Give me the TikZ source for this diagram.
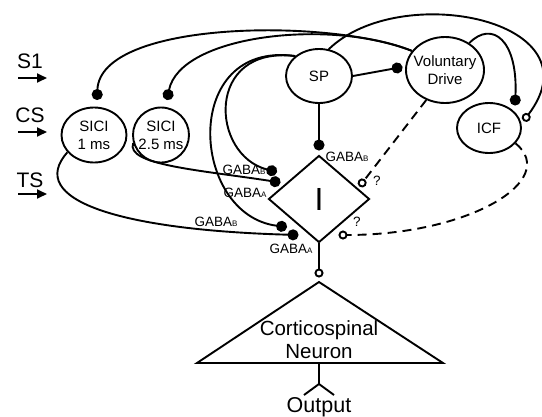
\documentclass[tikz,border=0pt]{standalone}
\usepackage{fontspec}
\setmainfont{Liberation Sans}
\usetikzlibrary{shapes.geometric,arrows.meta,positioning}
\newcommand{\subcap}[1]{{\fontsize{8}{8}\selectfont #1}}
\newcommand{\gabab}{GABA\subcap{B}}
\newcommand{\gabaa}{GABA\subcap{A}}

\begin{document}
\begin{tikzpicture}[
    x=1pt, y=-1pt,
    cell/.style={ellipse, draw, line width=1.9pt, inner sep=-4pt, align=center, font=\fontsize{15}{18}\selectfont},
    gaba/.style={inner sep=0pt, font=\fontsize{13.5}{14}\selectfont},
    stim/.style={inner sep=0pt, font=\fontsize{21}{22}\selectfont},
    link/.style={line width=1.9pt},
    inh/.style={link, -{Circle[length=11pt]}},
    exc/.style={link, -{Circle[open, length=9pt]}},
    maybe/.style={exc, dash pattern=on 9pt off 6pt},
    stimarrow/.style={line width=1.9pt, -{Triangle[length=10pt, width=9pt]}}
]
    \useasboundingbox (0,0) rectangle (542,416);

    % stimuli
    \foreach \name/\ty/\ay in {S1/61/78, CS/115/132, TS/180/194} {
        \node[stim] (\name) at (30,\ty) {\name};
        \coordinate (\name-from) at (18,\ay);
        \coordinate (\name-to) at (47,\ay);
        \draw[stimarrow] (\name-from) -- (\name-to);
    }

    % cells
    \node[cell, minimum width=65pt, minimum height=55pt] (sici1) at (94,135) {SICI\\1 ms};
    \node[cell, minimum width=56pt, minimum height=55pt] (sici2) at (161,135) {SICI\\2.5 ms};
    \node[cell, minimum width=66pt, minimum height=54pt] (sp) at (319,76) {SP};
    \node[cell, minimum width=78pt, minimum height=66pt] (vd) at (445,70) {Voluntary\\Drive};
    \node[cell, minimum width=64pt, minimum height=50pt] (icf) at (489,128) {ICF};
    \node[diamond, draw, line width=1.9pt, minimum width=101pt, minimum height=87pt, inner sep=0pt,
          font=\fontsize{32}{32}\selectfont] (inhib) at (319,199) {I};

    % corticospinal neuron
    \coordinate (apex) at (319,282);
    \coordinate (baseL) at (197,363);
    \coordinate (baseR) at (443,363);
    \draw[link, line join=miter] (apex) -- (baseR) -- (baseL) -- cycle;
    \node[inner sep=0pt, align=center, font=\fontsize{20.5}{23}\selectfont] (neuron) at (319,340) {Corticospinal\\Neuron};
    \coordinate (basemid) at (319,363);
    \coordinate (fork) at (319,384);
    \coordinate (legL) at (304,395);
    \coordinate (legR) at (334,395);
    \draw[link] (basemid) -- (fork) (fork) -- (legL) (fork) -- (legR);
    \node[inner sep=0pt, anchor=north, font=\fontsize{21.5}{22}\selectfont] (output) at (319,397) {Output};

    % synapse ends
    \coordinate (d1) at (97,100);
    \coordinate (d2) at (167,100);
    \coordinate (p1) at (277,172);
    \coordinate (p2) at (280.5,182.5);
    \coordinate (p3) at (287,227);
    \coordinate (p4) at (298.5,235);
    \coordinate (ptop) at (319,150.5);
    \coordinate (q1) at (359.4,186.5);
    \coordinate (q2) at (338.5,235);
    \coordinate (vddot) at (402.5,67);
    \coordinate (icfdot) at (515,105.5);
    \coordinate (icfring) at (523.5,121);
    \coordinate (outtip) at (319,277.5);

    % connections
    \draw[inh] (vd.150) .. controls (330,18) and (100,20) .. (d1);
    \draw[inh] (vd.150) .. controls (330,18) and (180,35) .. (d2);
    \draw[exc] (sp.70) .. controls (400,-20) and (600,20) .. (icfring);
    \draw[inh] (vd.48) .. controls (492,20) and (518,40) .. (icfdot);
    \draw[inh] (sp.east) -- (vddot);
    \draw[inh] (sp.south) -- (ptop);
    \draw[inh] (sp.140) .. controls (205,45) and (210,155) .. (p1);
    \draw[inh] (sp.140) .. controls (180,40) and (190,215) .. (p3);
    \draw[inh] (sici2.196) .. controls (125,165) and (200,170) .. (p2);
    \draw[inh] (sici1.213) .. controls (25,200) and (120,230) .. (p4);
    \draw[maybe] (vd.238) -- (q1);
    \draw[maybe] (icf.-30) .. controls (560,180) and (470,235) .. (q2);
    \draw[exc] (inhib.south) -- (outtip);

    % labels
    \node[gaba] (gbtop) at (347,157) {\gabab};
    \node[gaba] (gb1) at (244,170) {\gabab};
    \node[gaba] (ga1) at (245,193) {\gabaa};
    \node[gaba] (gb2) at (216,222) {\gabab};
    \node[gaba] (ga2) at (291,249) {\gabaa};
    \node[gaba] (qup) at (377,181) {?};
    \node[gaba] (qlow) at (357,222) {?};
\end{tikzpicture}
\end{document}
